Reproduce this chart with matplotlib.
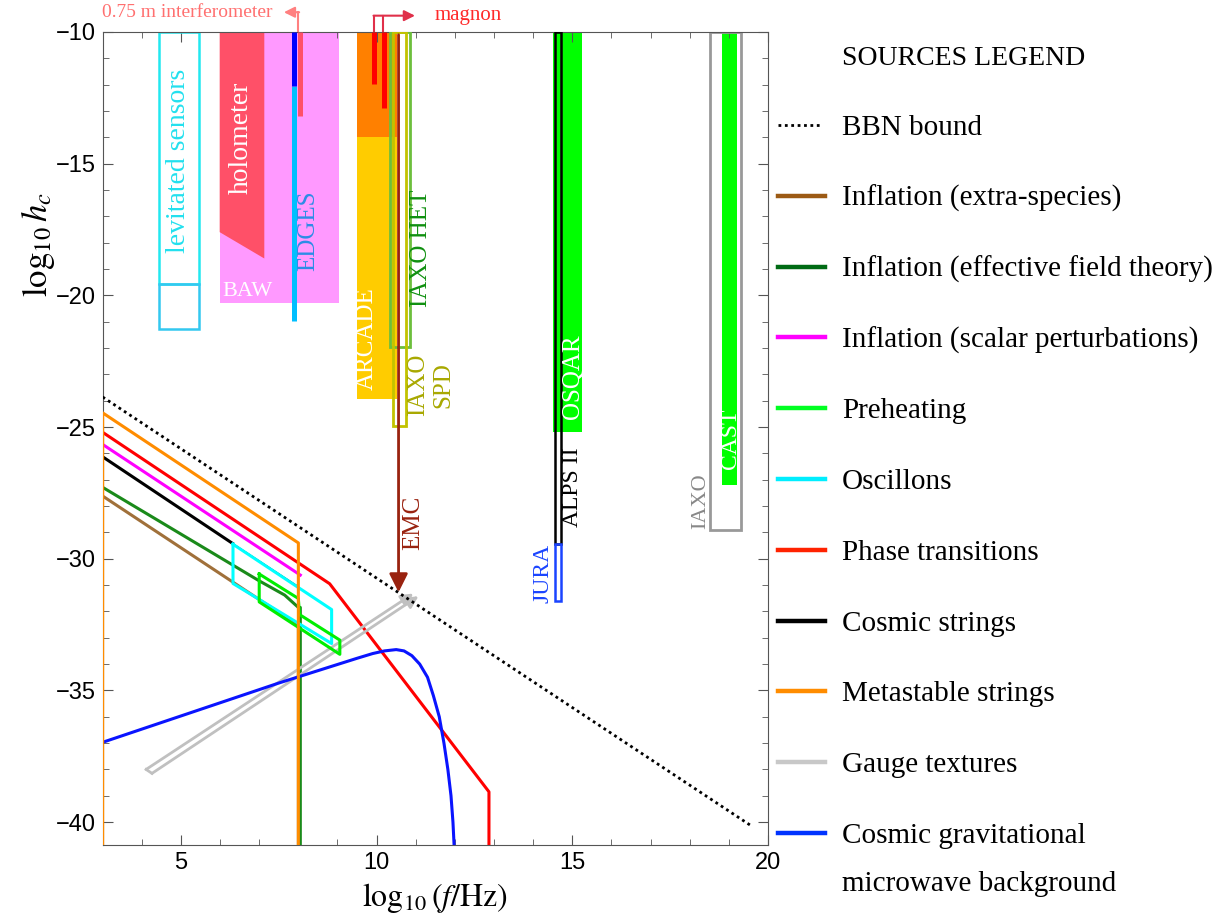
import numpy as np
import matplotlib.pyplot as plt
from matplotlib.lines import Line2D
from matplotlib.ticker import MultipleLocator

plt.rcParams['font.family'] = ['Liberation Serif', 'DejaVu Serif']
plt.rcParams['mathtext.fontset'] = 'stix'

# ---- GW sources: (log10 f, log10 h_c) ----
bbn_f = [3.0, 19.59]
bbn_h = [-23.86, -40.16]

extra_f = [3.0, 8.0, 8.0]
extra_h = [-27.62, -32.53, -41.0]

eft_f = [3.0, 7.0, 7.65, 8.0, 8.05, 8.05]
eft_h = [-27.29, -30.84, -31.38, -31.85, -31.85, -41.0]

scalar_f = [3.0, 8.05]
scalar_h = [-25.66, -30.62]

preheat_f = [7.0, 8.0, 8.03, 9.06, 9.06, 7.0, 7.0]
preheat_h = [-30.58, -31.51, -32.12, -33.09, -33.63, -31.64, -30.58]

oscillon_f = [6.33, 8.85, 8.85, 6.33, 6.33]
oscillon_h = [-29.45, -31.93, -33.22, -30.94, -29.45]

phase_f = [3.0, 8.8, 12.87, 12.87]
phase_h = [-25.2, -30.95, -38.85, -41.0]

strings_f = [3.0, 6.32, 8.0]
strings_h = [-26.13, -29.42, -31.06]

metastable_f = [3.0, 3.0, 8.0, 8.0]
metastable_h = [-41.0, -24.46, -29.4, -41.0]

gauge_up_f = [4.11, 10.94]
gauge_up_h = [-38.0, -31.32]
gauge_lo_f = [4.26, 11.07]
gauge_lo_h = [-38.15, -31.42]

cgmb_f = [3.0, 7.5, 9.5, 9.9, 10.2, 10.5, 10.7, 10.9, 11.1, 11.3, 11.45,
          11.6, 11.72, 11.82, 11.9, 11.95, 11.98]
cgmb_h = [-36.97, -34.72, -33.78, -33.6, -33.5, -33.45, -33.5, -33.68, -34.0, -34.5, -35.2,
          -36.0, -37.0, -38.0, -39.0, -40.0, -40.9]

# ---- detectors ----
lev_f = [4.45, 5.46]
lev_h = [-21.28, -19.55, -10.0]
baw_f = [5.99, 9.03]
baw_h = [-20.3, -10.0]
holo_f = [5.99, 7.13, 7.13, 5.99]
holo_h = [-10.0, -10.0, -18.6, -17.6]
edges_f = 7.9
edges_h = [-20.98, -12.04, -10.0]
interf_f = 8.04
interf_h = [-13.18, -10.0]
arcade_f = [9.5, 10.53]
arcade_h = [-23.94, -14.0, -10.0]
magnon_f = [9.93, 10.19]
magnon_h = [-11.99, -12.9]
het_f = [10.33, 10.84]
het_h = [-21.95, -10.0]
spd_f = [10.43, 10.75]
spd_h = [-24.95, -10.0]
emc_f = 10.56
emc_h = [-10.0, -31.38]
osqar_f = [14.5, 15.25]
osqar_h = [-25.18, -10.0]
alps_f = [14.57, 14.72]
alps_h = [-29.45, -10.0]
jura_f = [14.57, 14.72]
jura_h = [-31.6, -29.45]
cast_f = [18.83, 19.22]
cast_h = [-27.2, -10.0]
iaxo_f = [18.51, 19.32]
iaxo_h = [-28.9, -10.0]

legend_names = ['BBN bound', 'Inflation (extra-species)', 'Inflation (effective field theory)',
                'Inflation (scalar perturbations)', 'Preheating', 'Oscillons', 'Phase transitions',
                'Cosmic strings', 'Metastable strings', 'Gauge textures',
                'Cosmic gravitational\nmicrowave background']
legend_colors = ['k', '#9c5a14', '#006b14', '#ff00ff', '#00ff22', '#00eeff', '#ff2200',
                 'k', '#ff8c00', '#c8c8c8', '#0033ff']


def box(f, h, **kw):
    ax.fill([f[0], f[1], f[1], f[0]], [h[0], h[0], h[1], h[1]], **kw)


fig = plt.figure(figsize=(12.31, 9.22), dpi=100)
ax = fig.add_axes([0.0834, 0.0835, 0.5405, 0.8818])

# detectors
box(baw_f, baw_h, color='#ff99ff', lw=0, zorder=1)
ax.fill(holo_f, holo_h, color='#ff5068', lw=0, zorder=2)
box(lev_f, lev_h[1:], fill=False, ec='#22e8f0', lw=1.8, zorder=2)
box(lev_f, lev_h[:2], fill=False, ec='#33c8f0', lw=1.8, zorder=2)
ax.plot([edges_f, edges_f], edges_h[:2], color='#00bfff', lw=3.6, solid_capstyle='butt', zorder=3)
ax.plot([edges_f, edges_f], edges_h[1:], color='#0000ff', lw=3.6, solid_capstyle='butt', zorder=3)
ax.plot([interf_f, interf_f], interf_h, color='#ff5068', lw=3.6, solid_capstyle='butt', zorder=3)

box(arcade_f, arcade_h[:2], color='#ffcc00', lw=0, zorder=1)
box(arcade_f, arcade_h[1:], color='#ff8000', lw=0, zorder=1)
for f, h in zip(magnon_f, magnon_h):
    ax.plot([f, f], [h, -10], color='#ff0000', lw=3.6, solid_capstyle='butt', zorder=3)
box(het_f, het_h, fill=False, ec='#6cbf3c', lw=2, zorder=3)
box(spd_f, spd_h, fill=False, ec='#c2c200', lw=2, zorder=3)
ax.annotate('', xy=(emc_f, emc_h[1]), xytext=(emc_f, emc_h[0]),
            arrowprops=dict(arrowstyle='-|>', color='#99220f', lw=2, mutation_scale=28), zorder=4)

box(osqar_f, osqar_h, color='#00ff00', lw=0, zorder=1)
box(alps_f, alps_h, fill=False, ec='k', lw=1.8, zorder=3)
box(jura_f, jura_h, fill=False, ec='#1a44ff', lw=1.8, zorder=3)
box(iaxo_f, iaxo_h, fill=False, ec='#999999', lw=2, zorder=2)
box(cast_f, cast_h, color='#00ff00', lw=0, zorder=1)

# connectors above the frame
ax.plot([interf_f - 0.04, interf_f - 0.04], [-10, -9.25], color='#ff8080', lw=1.5, clip_on=False)
ax.annotate('', xy=(7.63, -9.25), xytext=(interf_f - 0.04 + 0.02, -9.25), annotation_clip=False,
            arrowprops=dict(arrowstyle='-|>', color='#ff8080', lw=1.5, mutation_scale=16, shrinkA=0, shrinkB=0))
ax.text(7.35, -9.25, '0.75 m interferometer', color='#ff7070', fontsize=14, ha='right', va='center')
ax.plot([9.93, 9.93], [-10, -9.38], color='#e0304a', lw=1.5, clip_on=False)
ax.plot([10.15, 10.15], [-10, -9.38], color='#e0304a', lw=1.5, clip_on=False)
ax.annotate('', xy=(10.98, -9.38), xytext=(9.92, -9.38), annotation_clip=False,
            arrowprops=dict(arrowstyle='-|>', color='#e0304a', lw=1.5, mutation_scale=16, shrinkA=0, shrinkB=0))
ax.text(11.47, -9.38, 'magnon', color='#ff2a2a', fontsize=15, ha='left', va='center')

# detector labels
lab = dict(rotation=90, ha='center', va='center', zorder=5)
ax.text(4.94, -14.9, 'levitated sensors', color='#22e0ee', fontsize=20, **lab)
ax.text(6.53, -14.0, 'holometer', color='white', fontsize=20, **lab)
ax.text(6.06, -19.84, 'BAW', color='white', fontsize=16, ha='left', va='center')
ax.text(8.24, -17.56, 'EDGES', color='#2c8ce6', fontsize=18, **lab)
ax.text(9.74, -21.66, 'ARCADE', color='white', fontsize=18, **lab)
ax.text(11.14, -18.2, 'IAXO HET', color='#109010', fontsize=18, **lab)
ax.text(11.39, -23.4, 'IAXO\nSPD', color='#a8a800', fontsize=18, multialignment='center', **lab)
ax.text(10.94, -28.65, 'EMC', color='#99220f', fontsize=18, **lab)
ax.text(15.01, -23.1, 'OSQAR', color='white', fontsize=18, **lab)
ax.text(15.01, -27.3, 'ALPS II', color='black', fontsize=17, **lab)
ax.text(14.24, -30.57, 'JURA', color='#1a44ff', fontsize=17, **lab)
ax.text(19.03, -25.45, 'CAST', color='white', fontsize=17, **lab)
ax.text(18.27, -27.8, 'IAXO', color='#888888', fontsize=16, **lab)

# sources
lw = 2.2
ax.plot(extra_f, extra_h, color='#a0703a', lw=lw, zorder=4)
ax.plot(eft_f, eft_h, color='#1a8a1a', lw=lw, zorder=4)
ax.plot(scalar_f, scalar_h, color='#ff00ff', lw=lw, zorder=4)
ax.plot(strings_f[:2], strings_h[:2], color='k', lw=lw, zorder=4)
ax.plot(strings_f[1:], strings_h[1:], color='k', lw=0.9, zorder=4)
ax.plot(phase_f, phase_h, color='#ff0000', lw=lw, zorder=4)
ax.plot(oscillon_f, oscillon_h, color='#00ffff', lw=lw, zorder=5)
ax.plot(preheat_f, preheat_h, color='#00ee00', lw=lw, zorder=5)
ax.plot(cgmb_f, cgmb_h, color='#0a14ff', lw=lw, zorder=5, solid_joinstyle='round')
ax.plot([gauge_up_f[0], gauge_lo_f[0]], [gauge_up_h[0], gauge_lo_h[0]], color='#c0c0c0', lw=2, zorder=4)
for gf, gh in [(gauge_up_f, gauge_up_h), (gauge_lo_f, gauge_lo_h)]:
    ax.annotate('', xy=(gf[1], gh[1]), xytext=(gf[0], gh[0]), zorder=4,
                arrowprops=dict(arrowstyle='-|>', color='#c0c0c0', lw=2, mutation_scale=18, shrinkA=0, shrinkB=0))
ax.plot(metastable_f, metastable_h, color='#ff8c00', lw=lw, zorder=6)
ax.plot(bbn_f, bbn_h, color='k', lw=2, ls=(0, (1, 1.3)), zorder=6)

ax.set_xlim(3, 20)
ax.set_ylim(-40.87, -10)
ax.xaxis.set_major_locator(MultipleLocator(5))
ax.xaxis.set_minor_locator(MultipleLocator(1))
ax.yaxis.set_major_locator(MultipleLocator(5))
ax.yaxis.set_minor_locator(MultipleLocator(1))
ax.tick_params(which='both', direction='in', top=True, right=True, color='#555555',
               labelsize=17, labelfontfamily='Liberation Sans', pad=5)
ax.tick_params(which='major', length=7)
ax.tick_params(which='minor', length=4)
for s in ax.spines.values():
    s.set_color('#555555')

fig.text(435 / 1231, 1 - 898 / 922, r'$\log_{10}(f/\mathrm{Hz})$', fontsize=23, ha='center', va='center')
fig.text(38 / 1231, 1 - 245 / 922, r'$\log_{10} h_c$', fontsize=25, rotation=90, ha='center', va='center')

# legend drawn at the right of the frame
fig.text(842 / 1231, 1 - 65 / 922, 'SOURCES LEGEND', fontsize=20, va='baseline')
for i, (name, col) in enumerate(zip(legend_names, legend_colors)):
    y = 125 + i * 70.8
    if i == 0:
        fig.add_artist(Line2D([778 / 1231, 822 / 1231], [1 - y / 922] * 2, color=col, lw=2, ls=(0, (1, 1.3))))
    else:
        fig.add_artist(Line2D([778 / 1231, 825 / 1231], [1 - y / 922] * 2, color=col, lw=3.2))
    for j, line in enumerate(name.split('\n')):
        fig.text(842 / 1231, 1 - (y + 10 + j * 48) / 922, line, fontsize=21, va='baseline')

fig.savefig('out.png', dpi=100)
